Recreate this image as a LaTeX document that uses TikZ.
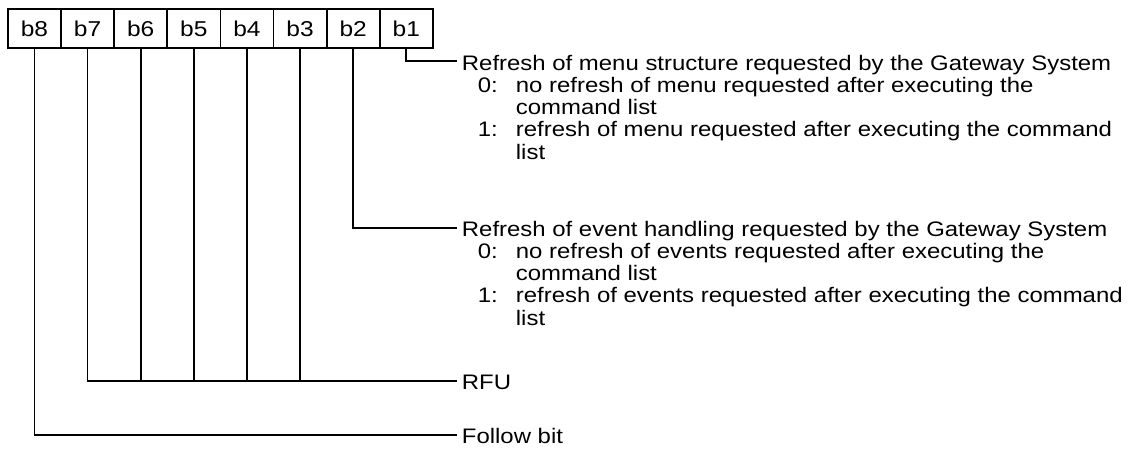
\documentclass[tikz,border=0pt]{standalone}
\usepackage{fontspec}
\setmainfont{Liberation Sans}[FakeStretch=1.14]
\begin{document}
\begin{tikzpicture}[x=1pt,y=-1pt,line width=1.8pt,
  txt/.style={anchor=base west,inner sep=0pt,font=\fontsize{21}{24}\selectfont},
  cell/.style={draw,minimum width=53.125pt,minimum height=39pt,inner sep=0pt,anchor=north west,font=\fontsize{21.5}{24}\selectfont}]
\useasboundingbox (0,0) rectangle (1127,448);
% bit cells
\node[cell] (c8) at (7,8) {b8};
\node[cell] (c7) at (60.125,8) {b7};
\node[cell] (c6) at (113.25,8) {b6};
\node[cell] (c5) at (166.375,8) {b5};
\node[cell] (c4) at (219.5,8) {b4};
\node[cell] (c3) at (272.625,8) {b3};
\node[cell] (c2) at (325.75,8) {b2};
\node[cell] (c1) at (378.875,8) {b1};
% line ends
\coordinate (e1) at (457,61);
\coordinate (e2) at (457,228);
\coordinate (e3) at (457,381);
\coordinate (e4) at (457,435);
% texts
\node[txt] (t1) at (461,70) {Refresh of menu structure requested by the Gateway System};
\node[txt] (t1a) at (477,92.3) {0:};
\node[txt] (t1b) at (515,92.3) {no refresh of menu requested after executing the};
\node[txt] (t1c) at (515,114.6) {command list};
\node[txt] (t1d) at (477,136.9) {1:};
\node[txt] (t1e) at (515,136.9) {refresh of menu requested after executing the command};
\node[txt] (t1f) at (515,159.2) {list};
\node[txt] (t2) at (461,236) {Refresh of event handling requested by the Gateway System};
\node[txt] (t2a) at (477,258.3) {0:};
\node[txt] (t2b) at (515,258.3) {no refresh of events requested after executing the};
\node[txt] (t2c) at (515,280.6) {command list};
\node[txt] (t2d) at (477,302.9) {1:};
\node[txt] (t2e) at (515,302.9) {refresh of events requested after executing the command};
\node[txt] (t2f) at (515,325.2) {list};
\node[txt] (t3) at (461,389) {RFU};
\node[txt] (t4) at (461,443) {Follow bit};
% connectors
\draw (c1.south) |- (e1);
\draw (c2.south) |- (e2);
\draw (c7.south) |- (e3);
\draw (c6.south) -- (c6.south |- e3);
\draw (c5.south) -- (c5.south |- e3);
\draw (c4.south) -- (c4.south |- e3);
\draw (c3.south) -- (c3.south |- e3);
\draw (c8.south) |- (e4);
\end{tikzpicture}
\end{document}
